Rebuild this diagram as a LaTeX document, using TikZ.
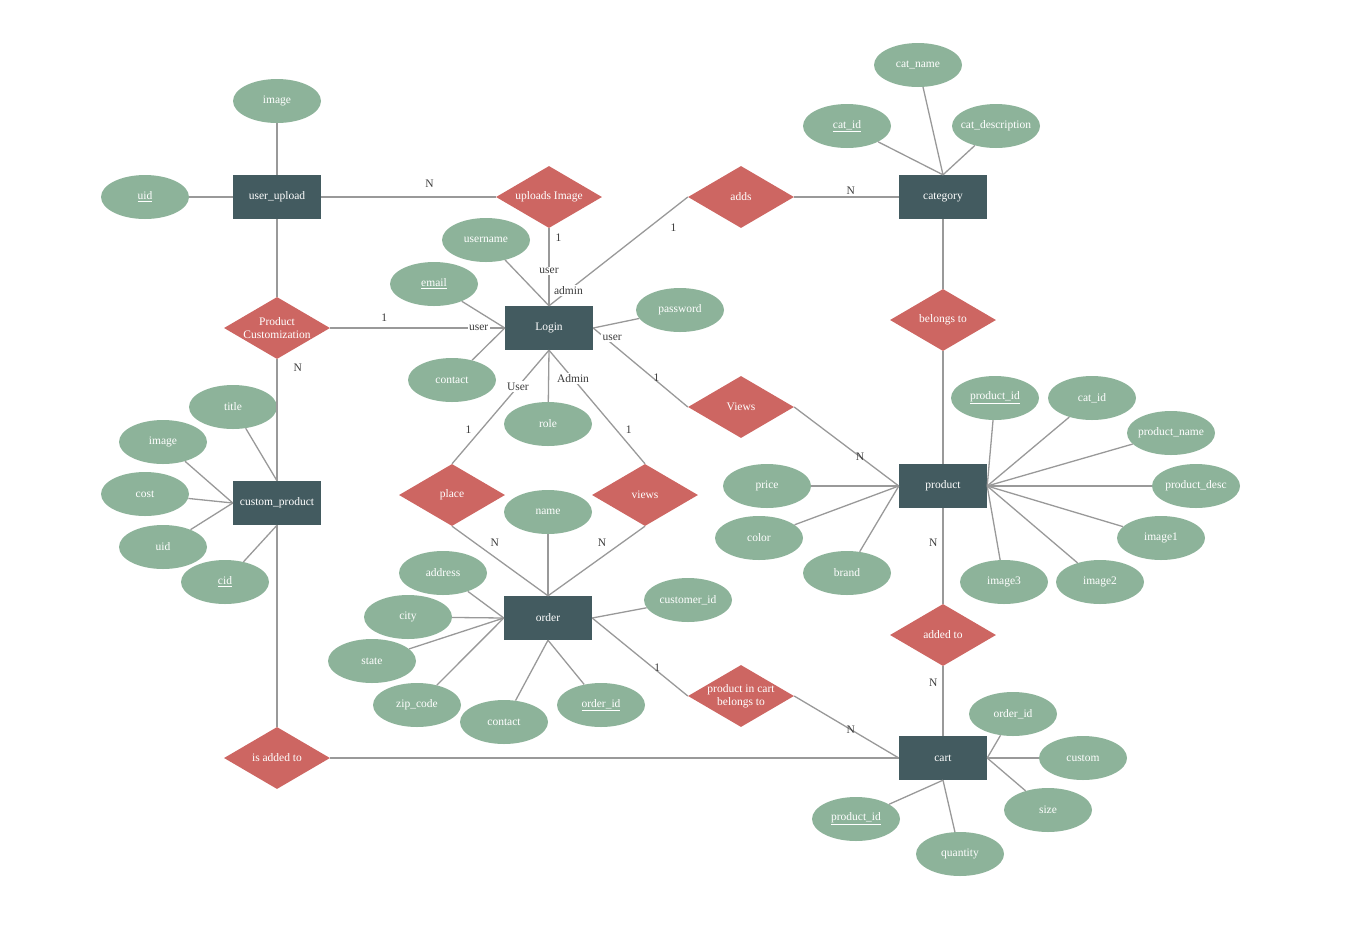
\documentclass[tikz,border=0pt]{standalone}
\usepackage{fontspec}
\setmainfont{Liberation Serif}
\usetikzlibrary{shapes.geometric}
\definecolor{entitycol}{RGB}{67,91,96}
\definecolor{relcol}{RGB}{205,102,98}
\definecolor{attrcol}{RGB}{141,179,154}
\definecolor{linecol}{RGB}{153,153,153}
\definecolor{labelcol}{RGB}{60,60,60}
\tikzstyle{entity}=[rectangle,minimum width=88pt,minimum height=44pt,inner sep=0pt,text centered,fill=entitycol,text=white]
\tikzstyle{relation}=[diamond,aspect=1.7,minimum width=106pt,minimum height=62pt,inner sep=-4pt,align=center,fill=relcol,text=white]
\tikzstyle{attribute}=[ellipse,minimum width=88pt,minimum height=44pt,inner xsep=-12pt,inner ysep=0pt,text centered,fill=attrcol,text=white]
\tikzstyle{link}=[draw=linecol,line width=1.3pt]
\tikzstyle{card}=[text=labelcol,inner sep=1pt]
\tikzstyle{onlink}=[text=labelcol,inner sep=1.5pt,fill=white]

\begin{document}
\begin{tikzpicture}[x=1pt,y=-1pt,every node/.style={font=\fontsize{11.5}{12.5}\selectfont}]
            \useasboundingbox (0,0) rectangle (1345,930);
            \node (uu)[entity] at (277,197) {user\_upload};
            \node (login)[entity] at (549,328) {Login};
            \node (cat)[entity] at (943,197) {category};
            \node (cp)[entity] at (277,503) {custom\_product};
            \node (order)[entity] at (548,618) {order};
            \node (product)[entity] at (943,486) {product};
            \node (cart)[entity] at (943,758) {cart};

            \node (upimg)[relation] at (549,197) {uploads Image};
            \node (adds)[relation] at (741,197) {adds};
            \node (pc)[relation] at (277,328) {Product\\Customization};
            \node (belongs)[relation] at (943,320) {belongs to};
            \node (viewsprod)[relation] at (741,407) {Views};
            \node (place)[relation] at (452,495) {place};
            \node (viewsord)[relation] at (645,495) {views};
            \node (addedto)[relation] at (943,635) {added to};
            \node (pib)[relation] at (741,696) {product in cart\\belongs to};
            \node (isadded)[relation] at (277,758) {is added to};

            \node (uuimage)[attribute] at (277,101) {image};
            \node (uuid)[attribute] at (145,197) {\underline{uid}};
            \node (username)[attribute] at (486,240) {username};
            \node (email)[attribute] at (434,284) {\underline{email}};
            \node (logcontact)[attribute] at (452,380) {contact};
            \node (logrole)[attribute] at (548,424) {role};
            \node (password)[attribute] at (680,310) {password};
            \node (catname)[attribute] at (918,65) {cat\_name};
            \node (catid)[attribute] at (847,126) {\underline{cat\_id}};
            \node (catdesc)[attribute] at (996,126) {cat\_description};
            \node (cptitle)[attribute] at (233,407) {title};
            \node (cpimage)[attribute] at (163,442) {image};
            \node (cpcost)[attribute] at (145,494) {cost};
            \node (cpuid)[attribute] at (163,547) {uid};
            \node (cpcid)[attribute] at (225,582) {\underline{cid}};
            \node (ordname)[attribute] at (548,512) {name};
            \node (address)[attribute] at (443,573) {address};
            \node (city)[attribute] at (408,617) {city};
            \node (state)[attribute] at (372,661) {state};
            \node (zipcode)[attribute] at (417,705) {zip\_code};
            \node (ordcontact)[attribute] at (504,722) {contact};
            \node (ordid)[attribute] at (601,705) {\underline{order\_id}};
            \node (customerid)[attribute] at (688,600) {customer\_id};
            \node (price)[attribute] at (767,486) {price};
            \node (color)[attribute] at (759,538) {color};
            \node (brand)[attribute] at (847,573) {brand};
            \node (prodid)[attribute] at (995,398) {\underline{product\_id}};
            \node (prodcatid)[attribute] at (1092,398) {cat\_id};
            \node (prodname)[attribute] at (1171,433) {product\_name};
            \node (proddesc)[attribute] at (1196,486) {product\_desc};
            \node (image1)[attribute] at (1161,538) {image1};
            \node (image2)[attribute] at (1100,582) {image2};
            \node (image3)[attribute] at (1004,582) {image3};
            \node (cartordid)[attribute] at (1013,714) {order\_id};
            \node (custom)[attribute] at (1083,758) {custom};
            \node (size)[attribute] at (1048,810) {size};
            \node (quantity)[attribute] at (960,854) {quantity};
            \node (cartprodid)[attribute] at (856,819) {\underline{product\_id}};

            \draw [link] (uu.east) -- node[card,pos=0.62,above=8pt]{N} (upimg.west);
            \draw [link] (upimg.south) -- node[card,pos=0.12,right=5pt]{1} node[onlink,pos=0.55]{user} (login.north);
            \draw [link] (adds.west) -- node[card,pos=0.28,right=20pt]{1} node[onlink,pos=0.86]{admin} (login.north);
            \draw [link] (adds.east) -- node[card,pos=0.54,yshift=6pt]{N} (cat.west);
            \draw [link] (pc.east) -- node[card,pos=0.31,above=5pt]{1} node[onlink,pos=0.85]{user} (login.west);
            \draw [link] (login.east) -- node[onlink,pos=0.2,yshift=6pt]{user} node[card,pos=0.67,yshift=3pt]{1} (viewsprod.west);
            \draw [link] (viewsprod.east) -- node[card,pos=0.63]{N} (product.west);
            \draw [link] (login.south) -- node[onlink,pos=0.32]{User} node[card,pos=0.7,left=8pt]{1} (place.north);
            \draw [link] (login.south) -- node[onlink,pos=0.25]{Admin} node[card,pos=0.7,right=8pt]{1} (viewsord.north);
            \draw [link] (place.south) -- node[card,pos=0.24,right=14pt]{N} (order.north);
            \draw [link] (viewsord.south) -- node[card,pos=0.24,left=14pt]{N} (order.north);
            \draw [link] (order.east) -- node[card,pos=0.68,yshift=3pt]{1} (pib.west);
            \draw [link] (pib.east) -- node[card,pos=0.54]{N} (cart.west);
            \draw [link] (uu.south) -- (pc.north);
            \draw [link] (pc.south) -- node[card,pos=0.07,right=15pt]{N} (cp.north);
            \draw [link] (cp.south) -- (isadded.north);
            \draw [link] (isadded.east) -- (cart.west);
            \draw [link] (cat.south) -- (belongs.north);
            \draw [link] (belongs.south) -- (product.north);
            \draw [link] (product.south) -- node[card,pos=0.36,left=4pt]{N} (addedto.north);
            \draw [link] (addedto.south) -- node[card,pos=0.24,left=4pt]{N} (cart.north);

            \draw [link] (uuimage) -- (uu.north);
            \draw [link] (uuid) -- (uu.west);
            \draw [link] (username) -- (login.north);
            \draw [link] (email) -- (login.west);
            \draw [link] (logcontact) -- (login.west);
            \draw [link] (logrole) -- (login.south);
            \draw [link] (password) -- (login.east);
            \draw [link] (catid) -- (cat.north);
            \draw [link] (catname) -- (cat.north);
            \draw [link] (catdesc) -- (cat.north);
            \draw [link] (cptitle) -- (cp.north);
            \draw [link] (cpimage) -- (cp.west);
            \draw [link] (cpcost) -- (cp.west);
            \draw [link] (cpuid) -- (cp.west);
            \draw [link] (cpcid) -- (cp.south);
            \draw [link] (ordname) -- (order.north);
            \draw [link] (address) -- (order.west);
            \draw [link] (city) -- (order.west);
            \draw [link] (state) -- (order.west);
            \draw [link] (zipcode) -- (order.west);
            \draw [link] (ordcontact) -- (order.south);
            \draw [link] (ordid) -- (order.south);
            \draw [link] (customerid) -- (order.east);
            \draw [link] (price) -- (product.west);
            \draw [link] (color) -- (product.west);
            \draw [link] (brand) -- (product.west);
            \draw [link] (prodid) -- (product.east);
            \draw [link] (prodcatid) -- (product.east);
            \draw [link] (prodname) -- (product.east);
            \draw [link] (proddesc) -- (product.east);
            \draw [link] (image1) -- (product.east);
            \draw [link] (image2) -- (product.east);
            \draw [link] (image3) -- (product.east);
            \draw [link] (cartordid) -- (cart.east);
            \draw [link] (custom) -- (cart.east);
            \draw [link] (size) -- (cart.east);
            \draw [link] (quantity) -- (cart.south);
            \draw [link] (cartprodid) -- (cart.south);
        \end{tikzpicture}
\end{document}
